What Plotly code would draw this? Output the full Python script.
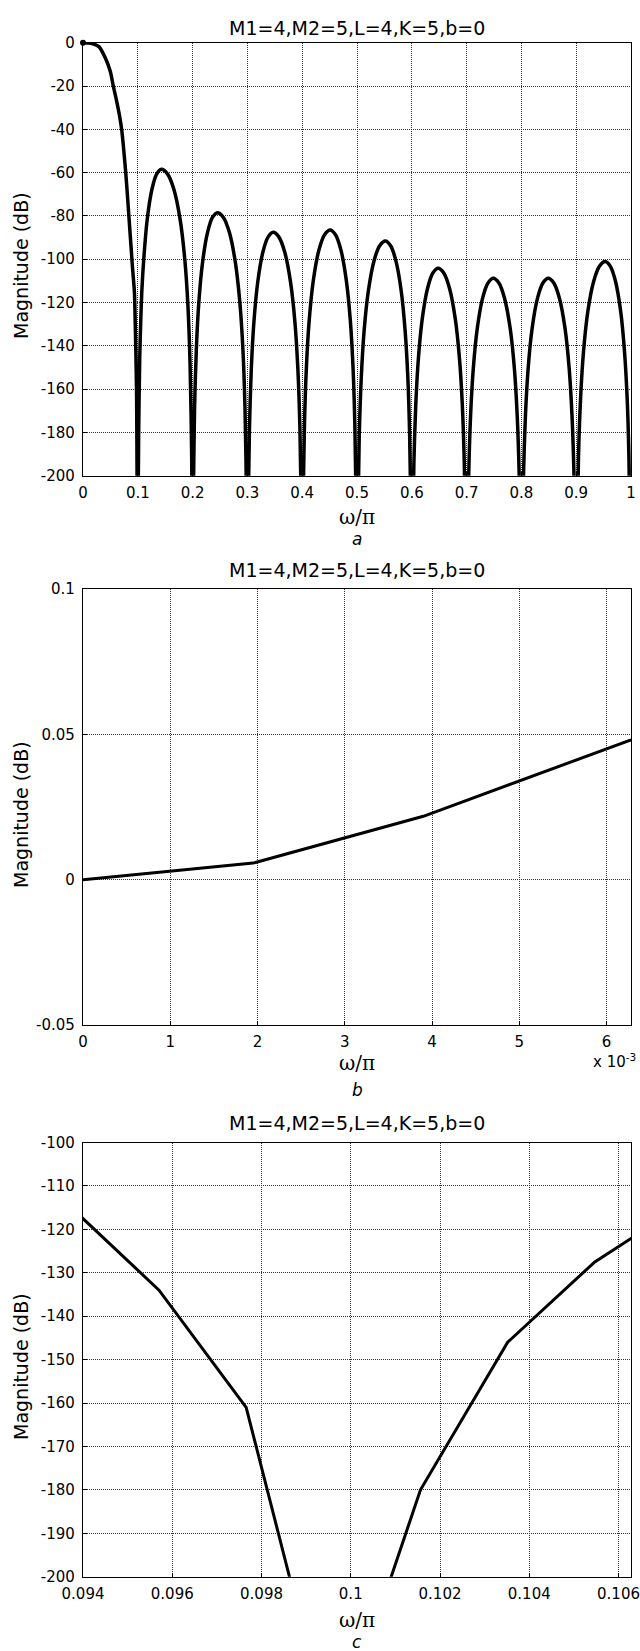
import plotly.graph_objects as go

W, H = 640, 1651

# ---------------- Panel a : full band magnitude response ----------------
a_main_x = [0, 0.010, 0.018, 0.029, 0.041, 0.050, 0.055, 0.061, 0.067, 0.071, 0.0745, 0.078,
            0.0817, 0.0859, 0.0879, 0.0898, 0.0918, 0.0938, 0.0957, 0.0977, 0.0996]
a_main_y = [0, -0.1, -0.5, -1.8, -7.2, -13.4, -19.7, -26.5, -34.2, -41, -50, -60,
            -72.7, -88, -95, -102, -108.5, -115.1, -134, -161, -239.5]

a_lobe1_x = [0.1016, 0.1035, 0.1055, 0.1074, 0.1108, 0.1172, 0.1258, 0.1344, 0.143, 0.1544,
             0.1658, 0.1772, 0.1858, 0.1915, 0.1954, 0.1983, 0.2]
a_lobe1_y = [-180, -146, -127.5, -114.5, -100.2, -81.6, -67.7, -60.7, -58.5, -60.7,
             -67.7, -81.6, -100.2, -121.7, -148.7, -191.2, -250]

a_lobe2_x = [0.2014, 0.2036, 0.2068, 0.2113, 0.2181, 0.2272, 0.2362, 0.2453, 0.2562, 0.2672,
             0.2781, 0.2863, 0.2918, 0.2956, 0.2984, 0.3]
a_lobe2_y = [-211.2, -168.7, -141.7, -120.2, -101.6, -87.7, -80.7, -78.5, -80.7, -87.7,
             -101.6, -120.2, -141.7, -168.7, -211.2, -250]

a_lobe3_x = [0.3014, 0.3038, 0.3071, 0.3118, 0.3188, 0.3282, 0.3376, 0.347, 0.3576, 0.3682,
             0.3788, 0.3868, 0.3921, 0.3958, 0.3984, 0.4]
a_lobe3_y = [-220.3, -177.8, -150.8, -129.3, -110.7, -96.8, -89.8, -87.6, -89.8, -96.8,
             -110.7, -129.3, -150.8, -177.8, -220.3, -250]

a_lobe4_x = [0.4015, 0.4041, 0.4077, 0.4128, 0.4204, 0.4306, 0.4408, 0.451, 0.4608, 0.4706,
             0.4804, 0.4878, 0.4927, 0.4961, 0.4985, 0.5]
a_lobe4_y = [-219.2, -176.7, -149.7, -128.2, -109.6, -95.7, -88.7, -86.5, -88.7, -95.7,
             -109.6, -128.2, -149.7, -176.7, -219.2, -250]

a_lobe5_x = [0.5016, 0.5041, 0.5078, 0.5129, 0.5207, 0.531, 0.5414, 0.5517, 0.5614, 0.571,
             0.5807, 0.5879, 0.5928, 0.5961, 0.5986, 0.6]
a_lobe5_y = [-224.3, -181.8, -154.8, -133.3, -114.7, -100.8, -93.8, -91.6, -93.8, -100.8,
             -114.7, -133.3, -154.8, -181.8, -224.3, -250]

a_lobe6_x = [0.6014, 0.6038, 0.6072, 0.612, 0.6192, 0.6288, 0.6384, 0.648, 0.6584, 0.6688,
             0.6792, 0.687, 0.6922, 0.6958, 0.6984, 0.7]
a_lobe6_y = [-236.9, -194.4, -167.4, -145.9, -127.3, -113.4, -106.4, -104.2, -106.4, -113.4,
             -127.3, -145.9, -167.4, -194.4, -236.9, -250]

a_lobe7_x = [0.7015, 0.7039, 0.7073, 0.7122, 0.7195, 0.7292, 0.739, 0.7487, 0.759, 0.7692,
             0.7795, 0.7872, 0.7923, 0.7959, 0.7985, 0.8]
a_lobe7_y = [-241.5, -199, -172, -150.5, -131.9, -118, -111, -108.8, -111, -118,
             -131.9, -150.5, -172, -199, -241.5, -250]

a_lobe8_x = [0.8015, 0.8039, 0.8074, 0.8123, 0.8196, 0.8294, 0.8392, 0.849, 0.8592, 0.8694,
             0.8796, 0.8872, 0.8923, 0.8959, 0.8985, 0.9]
a_lobe8_y = [-241.5, -199, -172, -150.5, -131.9, -118, -111, -108.8, -111, -118,
             -131.9, -150.5, -172, -199, -241.5, -250]

a_lobe9_x = [0.9016, 0.9042, 0.908, 0.9133, 0.9212, 0.9318, 0.9424, 0.953, 0.9624, 0.9718,
             0.9812, 0.9882, 0.993, 0.9962, 0.9986, 1.0]
a_lobe9_y = [-233.8, -191.3, -164.3, -142.8, -124.2, -110.3, -103.3, -101.1, -103.3, -110.3,
             -124.2, -142.8, -164.3, -191.3, -233.8, -250]

a_xticks = [0, 0.1, 0.2, 0.3, 0.4, 0.5, 0.6, 0.7, 0.8, 0.9, 1]
a_xtext = ["0", "0.1", "0.2", "0.3", "0.4", "0.5", "0.6", "0.7", "0.8", "0.9", "1"]
a_yticks = [-200, -180, -160, -140, -120, -100, -80, -60, -40, -20, 0]
a_ytext = ["-200", "-180", "-160", "-140", "-120", "-100", "-80", "-60", "-40", "-20", "0"]

# ---------------- Panel b : passband detail ----------------
b_x = [0, 0.00195, 0.0039, 0.00586, 0.00628]
b_y = [0, 0.0057, 0.0218, 0.0435, 0.0481]
b_xticks = [0, 0.001, 0.002, 0.003, 0.004, 0.005, 0.006]
b_xtext = ["0", "1", "2", "3", "4", "5", "6"]
b_yticks = [-0.05, 0, 0.05, 0.1]
b_ytext = ["-0.05", "0", "0.05", "0.1"]

# ---------------- Panel c : first null detail ----------------
c_x = [0.09375, 0.095703, 0.097656, 0.099609, 0.101563, 0.103516, 0.105469, 0.107422]
c_y = [-115.1, -134, -161, -239.5, -180, -146, -127.5, -114.5]
c_xticks = [0.094, 0.096, 0.098, 0.1, 0.102, 0.104, 0.106]
c_xtext = ["0.094", "0.096", "0.098", "0.1", "0.102", "0.104", "0.106"]
c_yticks = [-200, -190, -180, -170, -160, -150, -140, -130, -120, -110, -100]
c_ytext = ["-200", "-190", "-180", "-170", "-160", "-150", "-140", "-130", "-120", "-110", "-100"]

title_text = "M1=4,M2=5,L=4,K=5,b=0"

a_x = (a_main_x + a_lobe1_x + a_lobe2_x + a_lobe3_x + a_lobe4_x + a_lobe5_x
       + a_lobe6_x + a_lobe7_x + a_lobe8_x + a_lobe9_x)
a_y = (a_main_y + a_lobe1_y + a_lobe2_y + a_lobe3_y + a_lobe4_y + a_lobe5_y
       + a_lobe6_y + a_lobe7_y + a_lobe8_y + a_lobe9_y)

fig = go.Figure()
fig.add_trace(go.Scatter(x=a_x, y=a_y, mode="lines", xaxis="x", yaxis="y",
                         line=dict(color="black", width=3.5, shape="spline", smoothing=0.8),
                         showlegend=False, hoverinfo="skip"))
fig.add_trace(go.Scatter(x=[a_x[0]], y=[a_y[0]], mode="markers", xaxis="x", yaxis="y",
                         marker=dict(color="black", size=6), cliponaxis=False,
                         showlegend=False, hoverinfo="skip"))
fig.add_trace(go.Scatter(x=b_x, y=b_y, mode="lines", xaxis="x2", yaxis="y2",
                         line=dict(color="black", width=3),
                         showlegend=False, hoverinfo="skip"))
fig.add_trace(go.Scatter(x=c_x, y=c_y, mode="lines", xaxis="x3", yaxis="y3",
                         line=dict(color="black", width=3),
                         showlegend=False, hoverinfo="skip"))


def fy(py):
    return 1 - py / H


XL, XR = 83, 631
xdom = [XL / W, XR / W]
tickfont = dict(family="DejaVu Sans", size=15, color="black")
common = dict(showline=True, linecolor="black", linewidth=1.2, mirror=True,
              ticks="inside", ticklen=4, tickcolor="black", tickwidth=1,
              showgrid=True, gridcolor="#333333", gridwidth=1, griddash="1px,1px",
              zeroline=False, tickfont=tickfont, tickmode="array", fixedrange=True,
              automargin=False)

panels = [
    dict(top=42.7, bot=475.7, xr=[0, 1], yr=[-200, 0],
         xt=a_xticks, xtx=a_xtext, yt=a_yticks, ytx=a_ytext),
    dict(top=589, bot=1025, xr=[0, 0.00628], yr=[-0.05, 0.1],
         xt=b_xticks, xtx=b_xtext, yt=b_yticks, ytx=b_ytext),
    dict(top=1142.5, bot=1576.7, xr=[0.094, 0.10628], yr=[-200, -100],
         xt=c_xticks, xtx=c_xtext, yt=c_yticks, ytx=c_ytext),
]

layout = dict(width=W, height=H, margin=dict(l=0, r=0, t=0, b=0, autoexpand=False),
              paper_bgcolor="white", plot_bgcolor="white", showlegend=False)
for i, p in enumerate(panels):
    sfx = "" if i == 0 else str(i + 1)
    layout["xaxis" + sfx] = dict(common, domain=xdom, range=p["xr"], anchor="y" + sfx,
                                 tickvals=p["xt"], ticktext=p["xtx"], ticklabelstandoff=3)
    layout["yaxis" + sfx] = dict(common, domain=[fy(p["bot"]), fy(p["top"])], range=p["yr"],
                                 anchor="x" + sfx, tickvals=p["yt"], ticktext=p["ytx"],
                                 ticklabelstandoff=4)
fig.update_layout(**layout)

ann = []
cx = (XL + XR) / 2 / W
for ty in [28.3, 570, 1122.7]:
    ann.append(dict(text=title_text, x=cx, y=fy(ty), xref="paper", yref="paper",
                    xanchor="center", yanchor="middle", showarrow=False,
                    font=dict(family="DejaVu Sans", size=19, color="black")))
for ly in [266, 815, 1367]:
    ann.append(dict(text="Magnitude (dB)", x=21 / W, y=fy(ly), xref="paper", yref="paper",
                    xanchor="center", yanchor="middle", showarrow=False, textangle=-90,
                    font=dict(family="DejaVu Sans", size=19, color="black")))
for ly in [517, 1063, 1620]:
    ann.append(dict(text="ω/π", x=cx, y=fy(ly), xref="paper", yref="paper",
                    xanchor="center", yanchor="middle", showarrow=False,
                    font=dict(family="DejaVu Serif", size=20, color="black")))
for letter, ly in [("a", 539), ("b", 1090), ("c", 1642)]:
    ann.append(dict(text="<i>" + letter + "</i>", x=cx, y=fy(ly), xref="paper", yref="paper",
                    xanchor="center", yanchor="middle", showarrow=False,
                    font=dict(family="DejaVu Sans", size=17, color="black")))
ann.append(dict(text="x 10<sup>-3</sup>", x=638 / W, y=fy(1061), xref="paper", yref="paper",
                xanchor="right", yanchor="middle", showarrow=False,
                font=dict(family="DejaVu Sans", size=15, color="black")))
fig.update_layout(annotations=ann)

fig.write_html("out.html", config={"displayModeBar": False},
               post_script="document.body.style.margin='0px';document.body.style.overflow='hidden';")
